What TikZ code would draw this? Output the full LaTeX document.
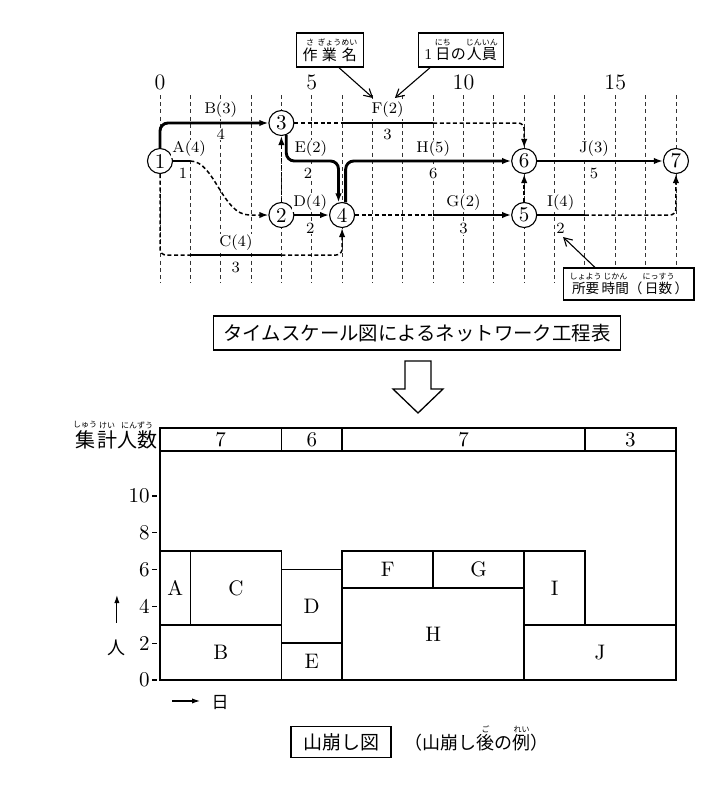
\documentclass[tikz,border=0pt]{standalone}
\usepackage{fontspec}
\newfontfamily\jp{Noto Sans CJK JP}
\usetikzlibrary{%
	arrows.meta,%
	calc,%
	positioning%
}

% ruby over a base text
\newcommand\rb[2]{\leavevmode\vbox{\offinterlineskip\halign{\hfil##\hfil\cr{\fontsize{4}{4}\selectfont #2}\cr\noalign{\kern.8pt}#1\cr}}}

\tikzset{
	event/.style={circle, draw, line width=0.55pt, fill=white, inner sep=0pt, minimum size=12.5pt, font=\fontsize{10.5}{11}\selectfont},
	job/.style={line width=1.45pt},
	dummy/.style={line width=0.75pt, dash pattern=on 2pt off 1.3pt},
	arr/.style={-{Latex[length=4.5pt,width=3.2pt]}},
	daygrid/.style={line width=0.45pt, black!80, dash pattern=on 2pt off 1.6pt},
	lbl/.style={fill=white, inner sep=0.6pt, font=\fontsize{7.8}{8}\selectfont},
	callout/.style={draw, line width=0.65pt, fill=white, inner xsep=3pt, inner ysep=1pt, minimum height=17pt, font=\jp\fontsize{7.5}{8}\selectfont},
	pointer/.style={line width=0.55pt, -{Straight Barb[length=4pt,width=4.5pt]}},
	cell/.style={line width=0.85pt},
	cellname/.style={font=\fontsize{10.5}{11}\selectfont},
}

\begin{document}
\begin{tikzpicture}[x=0.5pt, y=-0.5pt]
	\useasboundingbox (0,0) rectangle (710,805);

	% Time-scale network
	\begin{scope}[shift={(160,0)}, x=15.175pt]
		% Day grid
		\foreach \d in {0,...,17}
			\draw[daygrid] (\d,95) -- (\d,283);
		\foreach \d in {0,5,10,15}
			\node[font=\fontsize{11}{12}\selectfont] (day\d) at (\d,82) {\d};

		% Events
		\node[event] (n1) at (0,161) {1};
		\node[event] (n3) at (4,123) {3};
		\node[event] (n2) at (4,215) {2};
		\node[event] (n4) at (6,215) {4};
		\node[event] (n6) at (12,161) {6};
		\node[event] (n5) at (12,215) {5};
		\node[event] (n7) at (17,161) {7};

		% Bends
		\coordinate (a1) at (1,161);
		\coordinate (a2) at (2.95,215);
		\coordinate (c1) at (1,255);
		\coordinate (c2) at (4,255);
		\coordinate (f1) at (6,123);
		\coordinate (f2) at (9,123);
		\coordinate (g1) at (9,215);
		\coordinate (i1) at (14,215);

		% Jobs
		\draw[job, arr, rounded corners=4pt] (n1.north) |- (n3.west);
		\draw[job] (n1.east) -- (a1);
		\draw[dummy, arr] (a1) .. controls +(0.8,0) and +(-0.9,0) .. (a2) -- (n2.west);
		\draw[dummy, rounded corners=3pt] (n1.south) |- (c1);
		\draw[job] (c1) -- (c2);
		\draw[dummy, arr, rounded corners=3pt] (c2) -| (n4.south);
		\draw[dummy, arr] (n2.north) -- (n3.south);
		\draw[job, arr, rounded corners=4pt] (n3.-68) |- (n4.106 |- n1) -- (n4.106);
		\draw[job, arr, rounded corners=4pt] (n4.74) |- (n6.west);
		\draw[job, arr] (n2) -- (n4);
		\draw[dummy] (n3.east) -- (f1);
		\draw[job] (f1) -- (f2);
		\draw[dummy, arr, rounded corners=3pt] (f2) -| (n6.north);
		\draw[dummy] (n4.east) -- (g1);
		\draw[job, arr] (g1) -- (n5.west);
		\draw[dummy, arr] (n5.north) -- (n6.south);
		\draw[job] (n5.east) -- (i1);
		\draw[dummy, arr, rounded corners=3pt] (i1) -| (n7.south);
		\draw[job, arr] (n6) -- (n7);

		% Job names and days
		\node[lbl] (lA) at (0.96,149) {A(4)};
		\node[lbl] (dA) at (0.76,173) {1};
		\node[lbl] (lB) at (2,110) {B(3)};
		\node[lbl] (dB) at (2,134) {4};
		\node[lbl] (lC) at (2.5,243) {C(4)};
		\node[lbl] (dC) at (2.5,267) {3};
		\node[lbl] (lD) at (4.95,203) {D(4)};
		\node[lbl] (dD) at (4.95,228) {2};
		\node[lbl] (lE) at (4.97,149) {E(2)};
		\node[lbl] (dE) at (4.88,173) {2};
		\node[lbl] (lF) at (7.5,110) {F(2)};
		\node[lbl] (dF) at (7.5,134) {3};
		\node[lbl] (lG) at (10,203) {G(2)};
		\node[lbl] (dG) at (10,228) {3};
		\node[lbl] (lH) at (9,149) {H(5)};
		\node[lbl] (dH) at (9,173) {6};
		\node[lbl] (lI) at (13.2,203) {I(4)};
		\node[lbl] (dI) at (13.2,228) {2};
		\node[lbl] (lJ) at (14.3,149) {J(3)};
		\node[lbl] (dJ) at (14.3,173) {5};

		% Callouts
		\node[callout] (wname) at (5.6,50) {\rb{作}{さ}\rb{業}{ぎょう}\rb{名}{めい}};
		\node[callout] (wcrew) at (9.92,50) {\textrm{1}\,\rb{日}{にち}の\rb{人員}{じんいん}};
		\node[callout, minimum height=16pt, font=\jp\fontsize{6.8}{8}\selectfont] (wdur) at (15.45,284) {\rb{所要}{しょよう}\rb{時間}{じかん}（\rb{日数}{にっすう}）};
		\coordinate (pname) at (7.02,98);
		\coordinate (pcrew) at (7.74,98);
		\coordinate (pdur) at (13.28,237);
		\draw[pointer] ([xshift=4.5pt]wname.south) -- (pname);
		\draw[pointer] ([xshift=-15.5pt]wcrew.south) -- (pcrew);
		\draw[pointer] ([xshift=-17pt]wdur.north) -- (pdur);
	\end{scope}

	% Title and big arrow
	\node[draw, line width=0.65pt, inner xsep=5pt, minimum height=17pt, font=\jp\fontsize{9.7}{10}\selectfont] (title) at (417,333) {タイムスケール図によるネットワーク工程表};
	\draw[line width=0.65pt] (405,361) -- (431,361) -- (431,389) -- (443,389) -- (418,413) -- (393,389) -- (405,389) -- cycle;

	% Levelled manpower chart
	\begin{scope}[shift={(160,680)}, x=15.175pt, y=9.2pt]
		% Totals row
		\draw[cell] (0,12.45) rectangle (17,13.7);
		\draw[cell] (4,12.45) -- (4,13.7);
		\draw[cell] (6,12.45) -- (6,13.7);
		\draw[cell] (14,12.45) -- (14,13.7);
		\node[cellname] (s1) at (2,13.07) {7};
		\node[cellname] (s2) at (5,13.07) {6};
		\node[cellname] (s3) at (10,13.07) {7};
		\node[cellname] (s4) at (15.5,13.07) {3};
		\node[anchor=south east, inner sep=0pt, font=\jp\fontsize{10}{11}\selectfont] (sum) at (-0.08,12.55) {\rb{集}{しゅう}\rb{計}{けい}\rb{人数}{にんずう}};

		% Frame and axis
		\draw[cell] (0,0) rectangle (17,12.45);
		\foreach \v in {0,2,...,10} {
			\draw[line width=0.55pt] (-0.26,\v) -- (-0.1,\v);
			\node[anchor=east, inner sep=0pt, font=\fontsize{10.5}{11}\selectfont] (v\v) at (-0.33,\v) {\v};
		}

		% Jobs
		\draw[cell] (0,3) rectangle (1,7);
		\draw[cell] (1,3) rectangle (4,7);
		\draw[cell] (0,0) rectangle (4,3);
		\draw[cell] (4,2) rectangle (6,6);
		\draw[cell] (4,0) rectangle (6,2);
		\draw[cell] (6,5) rectangle (9,7);
		\draw[cell] (9,5) rectangle (12,7);
		\draw[cell] (6,0) rectangle (12,5);
		\draw[cell] (12,3) rectangle (14,7);
		\draw[cell] (12,0) rectangle (17,3);
		\node[cellname] (bA) at (0.5,5) {A};
		\node[cellname] (bC) at (2.5,5) {C};
		\node[cellname] (bB) at (2,1.5) {B};
		\node[cellname] (bD) at (5,4) {D};
		\node[cellname] (bE) at (5,1) {E};
		\node[cellname] (bF) at (7.5,6) {F};
		\node[cellname] (bG) at (10.5,6) {G};
		\node[cellname] (bH) at (9,2.5) {H};
		\node[cellname] (bI) at (13,5) {I};
		\node[cellname] (bJ) at (14.5,1.5) {J};

		% Axis names
		\node[font=\jp\fontsize{9}{10}\selectfont] (men) at (-1.42,1.74) {人};
		\coordinate (m0) at (-1.42,3.1);
		\coordinate (m1) at (-1.42,4.62);
		\draw[line width=0.55pt, -{Latex[length=4pt,width=2.6pt]}] (m0) -- (m1);
		\coordinate (t0) at (0.4,-1.14);
		\coordinate (t1) at (1.32,-1.14);
		\draw[line width=0.55pt, -{Latex[length=4pt,width=2.6pt]}] (t0) -- (t1);
		\node[font=\jp\fontsize{8.5}{10}\selectfont] (days) at (1.98,-1.2) {日};
	\end{scope}

	% Caption
	\node[draw, line width=0.65pt, inner xsep=6pt, minimum height=13pt, font=\jp\fontsize{9.5}{10}\selectfont] (yama) at (341,742) {山崩し図};
	\node[anchor=base west, font=\jp\fontsize{9}{10}\selectfont] (yamanote) at ([xshift=3pt]yama.base east) {（山崩し\rb{後}{ご}の\rb{例}{れい}）};
\end{tikzpicture}
\end{document}
